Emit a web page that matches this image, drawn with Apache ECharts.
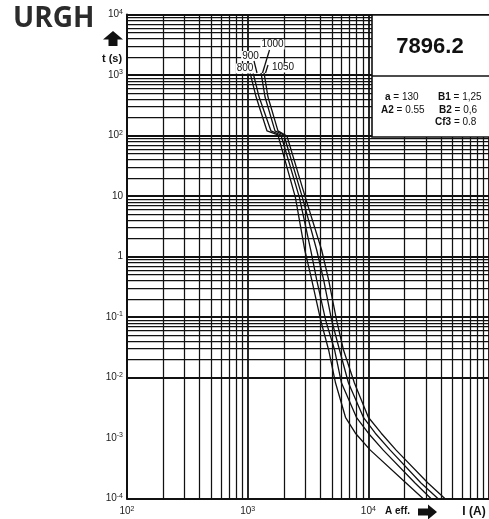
<!DOCTYPE html>
<html><head><meta charset="utf-8">
<script src="https://cdn.jsdelivr.net/npm/echarts@6/dist/echarts.min.js"></script>
<style>html,body{margin:0;padding:0;background:#fff}#c{width:489px;height:519px}</style>
</head><body><div id="c"></div>
<script>
// ---- data (I in A, t in s) ----
const ratings = ['800', '900', '1000', '1050'];
const curve800 = [[1048,1080],[1175,432],[1447,119],[1782,102],[2483,9.6],[2973,1.28],[3396,0.41],[4027,0.089],[4687,0.0285],[5350,0.0081],[6467,0.0022],[7816,0.0012],[10386,0.00063],[20550,0.00018],[28370,0.0001]];
const curve900 = [[1110,1080],[1244,432],[1561,119],[1887,102],[2679,9.6],[3332,1.28],[3733,0.41],[4427,0.089],[5252,0.0285],[5995,0.0081],[7966,0.0022],[10000,0.0012],[13290,0.00063],[24380,0.00018],[33000,0.0001]];
const curve1000 = [[1291,1080],[1393,432],[1684,119],[1997,102],[2836,9.6],[3733,1.28],[4263,0.41],[4961,0.089],[5771,0.0285],[6846,0.0081],[9097,0.0022],[11420,0.0012],[15170,0.00063],[27310,0.00018],[37690,0.0001]];
const curve1050 = [[1367,1080],[1474,432],[1782,119],[2115,98],[3002,9.6],[4103,1.28],[4687,0.41],[5452,0.089],[6226,0.0285],[7670,0.0081],[10000,0.0022],[12795,0.0012],[16990,0.00063],[31190,0.00018],[43050,0.0001]];
const curves = [curve800, curve900, curve1000, curve1050];

const xTickValues = [100, 1000, 10000];
const xTickLabels = ['10²', '10³', '10⁴'];
const yTickValues = [1e-4, 1e-3, 1e-2, 1e-1, 1, 10, 100, 1000, 10000];
const yTickLabels = ['10⁻⁴', '10⁻³', '10⁻²', '10⁻¹', '1', '10', '10²', '10³', '10⁴'];
const xDecades = [100, 1000, 10000];
const yDecades = [1e-4, 1e-3, 1e-2, 1e-1, 1, 10, 100, 1000];
const gridSteps = [1, 2, 3, 4, 5, 6, 7, 8, 9];

const title = 'URGH';
const partNo = '7896.2';
const params = [['a', '130'], ['B1', '1,25'], ['A2', '0.55'], ['B2', '0,6'], ['Cf3', '0.8']];

// ---- helpers ----
const FONT = "'Liberation Sans', Arial, sans-serif";
const supMap = {'⁰':'0','¹':'1','²':'2','³':'3','⁴':'4','⁵':'5','⁶':'6','⁷':'7','⁸':'8','⁹':'9','⁻':'-'};
function toRich(s) {
  let base = '', sup = '';
  for (const ch of s) { if (supMap[ch] !== undefined) sup += supMap[ch]; else base += ch; }
  return '{b|' + base + '}' + (sup ? '{s|' + sup + '}' : '');
}
function lookup(v, vals, labels) {
  for (let i = 0; i < vals.length; i++) if (Math.abs(Math.log10(v) - Math.log10(vals[i])) < 1e-6) return toRich(labels[i]);
  return '';
}
const richStyle = {
  b: {fontSize: 10, fontFamily: FONT, color: '#222', lineHeight: 12},
  s: {fontSize: 7, fontFamily: FONT, color: '#222', verticalAlign: 'top', lineHeight: 12}
};
function gridLines(key, decades, last) {
  const out = [];
  decades.forEach(d => gridSteps.forEach(m => {
    out.push({[key]: d * m, lineStyle: {width: m === 1 ? 1.8 : 1.25}});
  }));
  out.push({[key]: last, lineStyle: {width: 1.8}});
  return out;
}

const chart = echarts.init(document.getElementById('c'), null, {renderer: 'canvas'});
const series = [{
  type: 'line', data: [[100, 1e-4]], symbol: 'none', lineStyle: {width: 0}, silent: true, z: 1,
  markLine: {
    silent: true, symbol: ['none', 'none'], label: {show: false}, animation: false,
    lineStyle: {color: '#111', type: 'solid'},
    data: gridLines('xAxis', xDecades, 100000).concat(gridLines('yAxis', yDecades, 10000))
  }
}];
curves.forEach((c, i) => series.push({
  type: 'line', name: ratings[i], data: c, symbol: 'none', smooth: false, z: 5,
  lineStyle: {color: '#111', width: 1.3}, clip: true
}));

const labelFont = "10px 'Liberation Sans', Arial, sans-serif";
function paramText(p, x, y) {
  return {type: 'text', x: x, y: y, z: 42, style: {text: '{k|' + p[0] + '} = ' + p[1], font: labelFont, fill: '#111', verticalAlign: 'middle', rich: {k: {fontWeight: 'bold', fontSize: 10, fontFamily: FONT}}}};
}
function ratingText(t, x, y) {
  return {type: 'text', x: x, y: y, z: 30, style: {text: t, font: labelFont, fill: '#111', align: 'center', verticalAlign: 'middle', backgroundColor: '#fff', padding: [0, 1]}};
}
const graphic = [
  {type: 'text', left: 13, top: 5, z: 50, style: {text: title, font: "bold 28px 'Open Sans', 'Liberation Sans', sans-serif", fill: '#2b2b2b'}},
  {type: 'polygon', z: 50, shape: {points: [[113,31],[123,39.5],[117.5,39.5],[117.5,46],[108.5,46],[108.5,39.5],[103,39.5]]}, style: {fill: '#111'}},
  {type: 'text', x: 112, y: 59, z: 50, style: {text: 't (s)', font: "bold 11px 'Liberation Sans', Arial, sans-serif", fill: '#111', align: 'center', verticalAlign: 'middle'}},
  // info box
  {type: 'rect', z: 40, shape: {x: 372, y: 15, width: 125, height: 122}, style: {fill: '#fff', stroke: '#111', lineWidth: 1.6}},
  {type: 'line', z: 41, shape: {x1: 372, y1: 76, x2: 489, y2: 76}, style: {stroke: '#111', lineWidth: 1.6}},
  {type: 'text', x: 430, y: 47, z: 42, style: {text: partNo, font: "bold 22px 'Liberation Sans', Arial, sans-serif", fill: '#111', align: 'center', verticalAlign: 'middle'}},
  paramText(params[0], 385, 97.5),
  paramText(params[1], 438, 97.5),
  paramText(params[2], 381, 110),
  paramText(params[3], 439, 110),
  paramText(params[4], 435, 122),
  // rating labels
  ratingText(ratings[2], 272.5, 44.5),
  ratingText(ratings[1], 250.5, 56),
  ratingText(ratings[0], 245, 68.5),
  ratingText(ratings[3], 283, 67.5),
  {type: 'line', z: 31, shape: {x1: 269.5, y1: 50, x2: 262.5, y2: 73}, style: {stroke: '#111', lineWidth: 1.3}},
  {type: 'line', z: 31, shape: {x1: 254, y1: 61, x2: 257, y2: 73}, style: {stroke: '#111', lineWidth: 1.3}},
  {type: 'line', z: 31, shape: {x1: 268, y1: 65, x2: 265.5, y2: 73}, style: {stroke: '#111', lineWidth: 1.3}},
  // bottom axis annotations
  {type: 'text', x: 397.5, y: 511, z: 50, style: {text: 'A eff.', font: "bold 10px 'Liberation Sans', Arial, sans-serif", fill: '#111', align: 'center', verticalAlign: 'middle'}},
  {type: 'polygon', z: 50, shape: {points: [[418,508.5],[428,508.5],[428,504.5],[437,512],[428,519.5],[428,515.5],[418,515.5]]}, style: {fill: '#111'}},
  {type: 'text', x: 474, y: 511.5, z: 50, style: {text: 'I (A)', font: "bold 12px 'Liberation Sans', Arial, sans-serif", fill: '#111', align: 'center', verticalAlign: 'middle'}}
];

chart.setOption({
  animation: false,
  backgroundColor: '#fff',
  grid: {left: 127, top: 14.5, width: 364, height: 484, containLabel: false},
  xAxis: {
    type: 'log', logBase: 10, min: 100, max: 100000, splitNumber: 3,
    axisLine: {show: true, lineStyle: {color: '#111', width: 2}},
    axisTick: {show: false}, splitLine: {show: false},
    axisLabel: {show: true, margin: 7, showMaxLabel: false, formatter: v => lookup(v, xTickValues, xTickLabels), rich: richStyle}
  },
  yAxis: {
    type: 'log', logBase: 10, min: 1e-4, max: 1e4, splitNumber: 8,
    axisLine: {show: true, lineStyle: {color: '#111', width: 2}},
    axisTick: {show: false}, splitLine: {show: false},
    axisLabel: {show: true, margin: 4, formatter: v => lookup(v, yTickValues, yTickLabels), rich: richStyle}
  },
  series: series,
  graphic: graphic
});
</script>
</body></html>
